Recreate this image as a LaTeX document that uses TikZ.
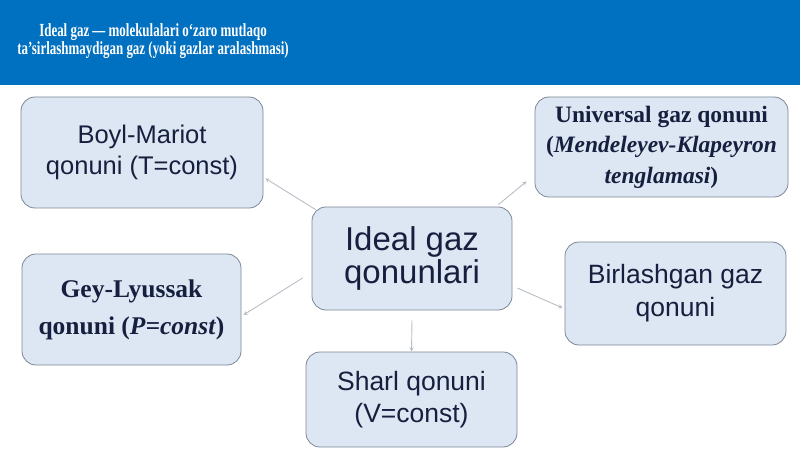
\documentclass[tikz,border=0pt]{standalone}
\usepackage{fontspec}
\setmainfont{Liberation Serif}
\setsansfont{Liberation Sans}
\usepackage{tikz}
\usetikzlibrary{calc}
\usetikzlibrary{arrows}
\usetikzlibrary{positioning}
\definecolor{headblue}{RGB}{0, 112, 192}
\definecolor{boxfill}{RGB}{221, 231, 244}
\definecolor{boxline}{RGB}{125, 135, 150}
\definecolor{inkblue}{RGB}{22, 32, 62}
\definecolor{linkgray}{RGB}{185, 190, 198}

\begin{document}
\begin{tikzpicture}[x=1pt, y=-1pt,
    law/.style={draw=boxline, fill=boxfill, rounded corners=14pt, line width=0.8pt,
                align=center, text=inkblue, inner sep=0pt,
                execute at begin node={\rule{0pt}{\dimexpr0.75em+7pt\relax}}},
    link/.style={draw=linkgray, line width=0.9pt, -stealth}]
            \useasboundingbox                                             (0, 0) rectangle (800, 449);
            \fill[white]                                                  (0, 0) rectangle (800, 449);
            \fill[headblue]                                               (0, 0) rectangle (800, 85);
            % title
            \node[text=white, font=\bfseries\fontsize{18.5}{15}\selectfont, align=center] (title) at (153, 41)
                 {\scalebox{0.7}[1]{Ideal gaz — molekulalari o‘zaro mutlaqo}\\
                  \scalebox{0.7}[1]{ta’sirlashmaydigan gaz (yoki gazlar aralashmasi)}};
            % boxes
            \node[law, minimum width=242, minimum height=111, font=\sffamily\fontsize{25.5}{31}\selectfont]
                 (boyl)  at (142.0, 152.5) {Boyl-Mariot\\qonuni (T=const)};
            \node[law, minimum width=253, minimum height=100, font=\bfseries\fontsize{23.5}{30.5}\selectfont]
                 (univ)  at (661.5, 147.0) {Universal gaz qonuni\\(\textit{Mendeleyev-Klapeyron}\\\textit{tenglamasi})};
            \node[law, minimum width=200, minimum height=103, font=\sffamily\fontsize{33}{33}\selectfont]
                 (ctr)   at (412.0, 258.5) {Ideal gaz\\qonunlari};
            \node[law, minimum width=219, minimum height=111, font=\bfseries\fontsize{25.5}{37}\selectfont]
                 (gey)   at (131.5, 309.5) {Gey-Lyussak\\qonuni (\textit{P=const})};
            \node[law, minimum width=221, minimum height=103, font=\sffamily\fontsize{26.5}{33}\selectfont]
                 (birl)  at (675.5, 293.5) {Birlashgan gaz\\qonuni};
            \node[law, minimum width=211, minimum height=95,  font=\sffamily\fontsize{26.5}{32}\selectfont]
                 (sharl) at (411.5, 399.5) {Sharl qonuni\\(V=const)};
            % links
            \draw[link] ([shift={(4, 3)}]ctr.north west)    -- ([shift={(2, -30)}]boyl.south east);
            \draw[link] ([shift={(-14, -2)}]ctr.north east) -- ([shift={(-8, -16)}]univ.south west);
            \draw[link] ([shift={(-9, 19.5)}]ctr.west)      -- ([shift={(2, 5.5)}]gey.east);
            \draw[link] ([shift={(5, 29.5)}]ctr.east)       -- ([shift={(-2, 14.5)}]birl.west);
            \draw[link] ([shift={(0, 10)}]ctr.south)        -- (sharl.north);
        \end{tikzpicture}
\end{document}
